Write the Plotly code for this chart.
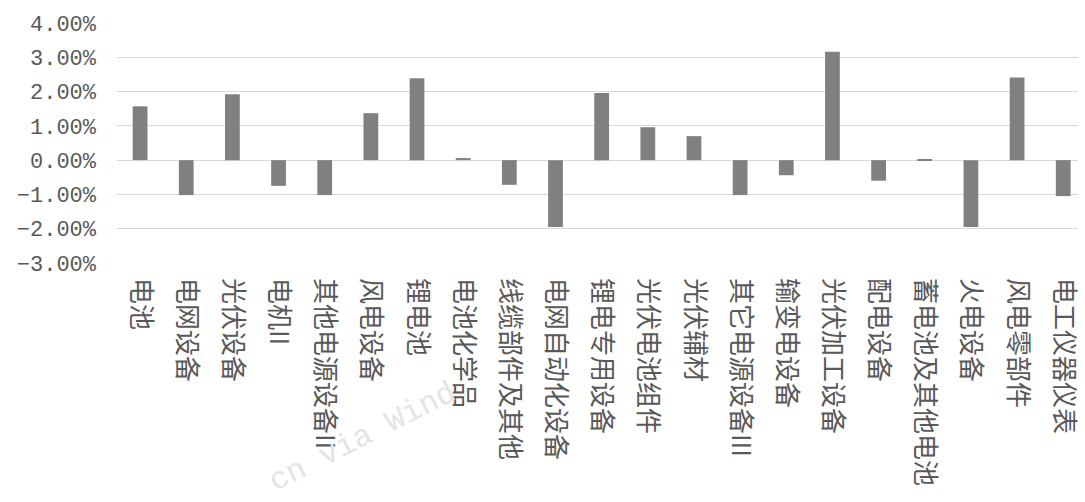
import plotly.graph_objects as go

categories = ["电池", "电网设备", "光伏设备", "电机II", "其他电源设备II", "风电设备", "锂电池",
              "电池化学品", "线缆部件及其他", "电网自动化设备", "锂电专用设备", "光伏电池组件",
              "光伏辅材", "其它电源设备III", "输变电设备", "光伏加工设备", "配电设备",
              "蓄电池及其他电池", "火电设备", "风电零部件", "电工仪器仪表"]
values_pct = [1.57, -1.02, 1.92, -0.75, -1.02, 1.37, 2.39, 0.06, -0.72, -1.95, 1.96,
              0.96, 0.70, -1.02, -0.44, 3.16, -0.60, 0.03, -1.95, 2.41, -1.05]
y_ticks = [-0.03, -0.02, -0.01, 0.0, 0.01, 0.02, 0.03, 0.04]

values = [v / 100 for v in values_pct]

fig = go.Figure()
fig.add_trace(go.Bar(
    x=categories, y=values, width=0.32,
    marker=dict(color="#808080", line=dict(width=0)),
))

fig.add_annotation(
    text="cn via Wind", xref="paper", yref="paper", x=0.255, y=-0.725,
    xanchor="center", yanchor="middle", showarrow=False, textangle=-27,
    font=dict(family="Liberation Mono", size=31, color="#e4e4e4"),
)

fig.update_layout(
    width=1085, height=502,
    margin=dict(l=117, r=0, t=23, b=239),
    paper_bgcolor="white", plot_bgcolor="white",
    showlegend=False,
    xaxis=dict(
        type="category", range=[-0.5, 20.32], showgrid=False, showline=False,
        ticks="", tickangle=90, ticklabelstandoff=14,
        tickfont=dict(family="Noto Sans CJK SC", size=26, color="#595959"),
    ),
    yaxis=dict(
        range=[-0.03, 0.04], tickvals=y_ticks, tickformat=".2%",
        showgrid=True, gridcolor="#d9d9d9", gridwidth=1,
        zeroline=True, zerolinecolor="#d9d9d9", zerolinewidth=1,
        showline=False, ticks="", ticklabelstandoff=20,
        tickfont=dict(family="Liberation Mono", size=22, color="#595959"),
    ),
)

fig.write_html("out.html")
